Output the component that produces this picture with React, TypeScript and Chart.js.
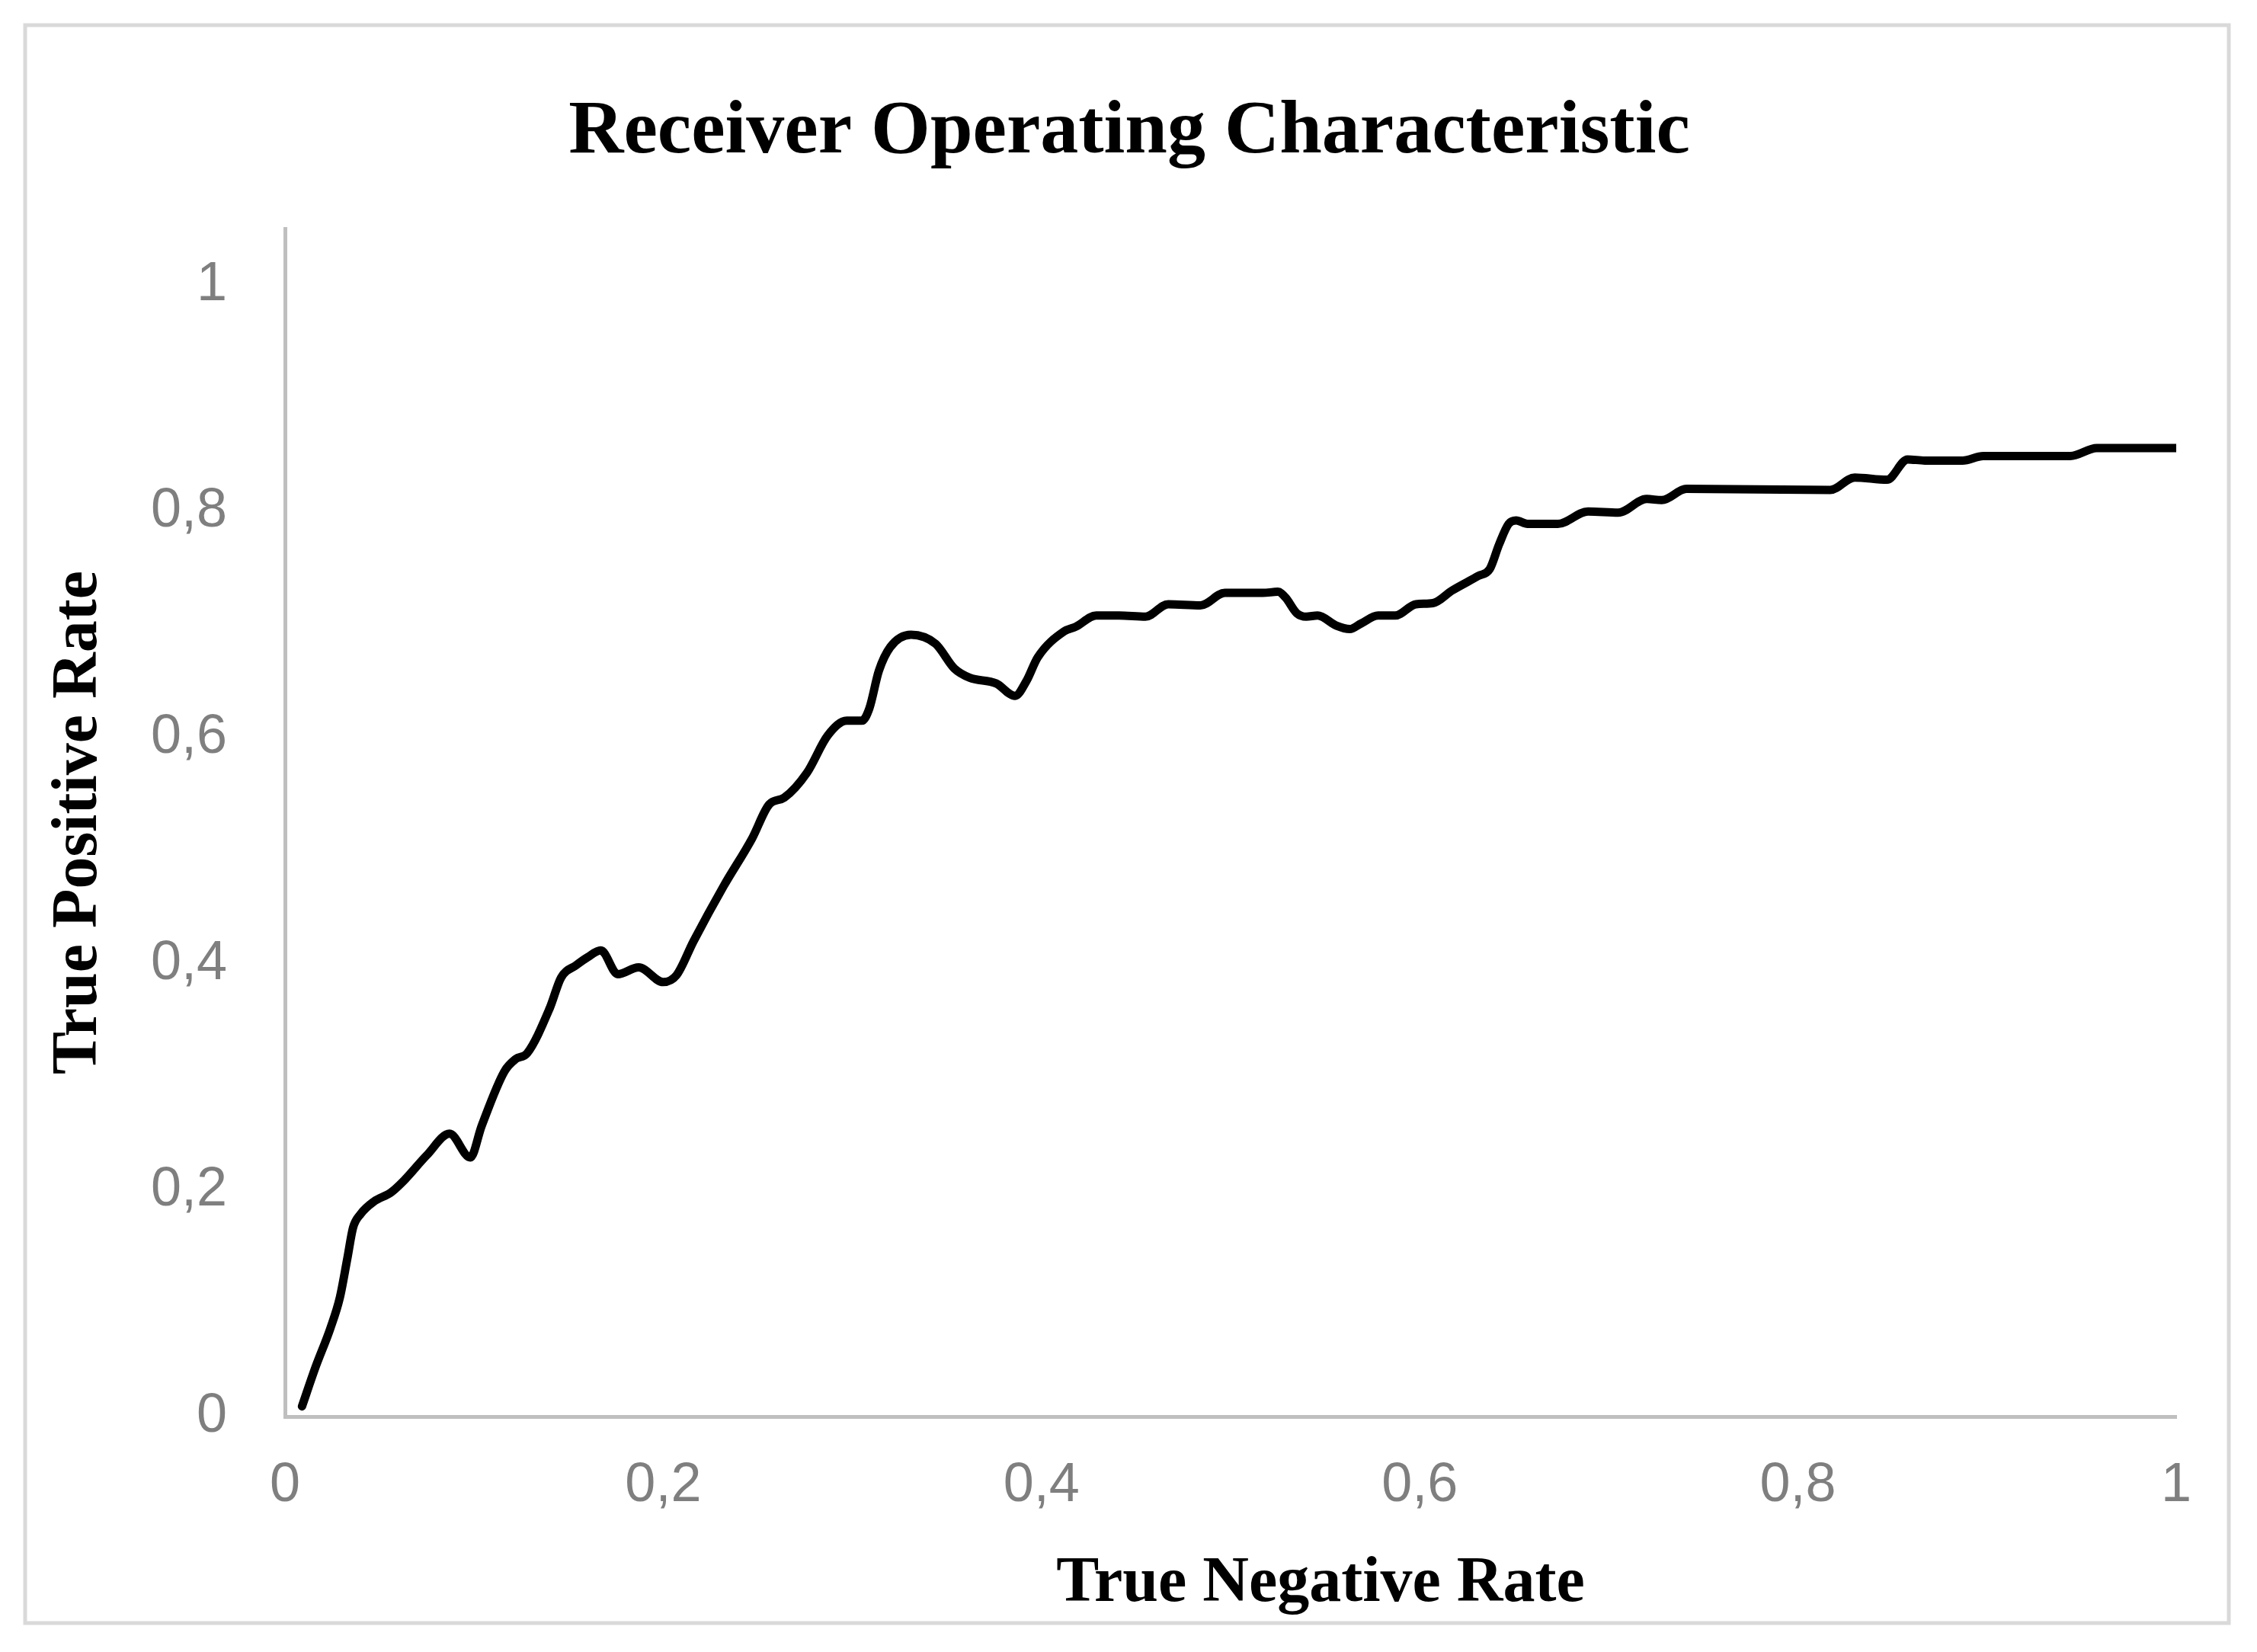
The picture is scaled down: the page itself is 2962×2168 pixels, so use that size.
import React, { useEffect, useRef } from "react";
import { Chart, registerables } from "chart.js";

Chart.register(...registerables);

const chartTitle = "Receiver Operating Characteristic";
const xAxisTitle = "True Negative Rate";
const yAxisTitle = "True Positive Rate";
const tickValues = [0, 0.2, 0.4, 0.6, 0.8, 1];

const tnr = [
  0.009, 0.016, 0.024, 0.029, 0.033, 0.036, 0.04, 0.047, 0.056, 0.062,
  0.075, 0.087, 0.098, 0.104, 0.116, 0.122, 0.128, 0.14, 0.146, 0.154,
  0.16, 0.167, 0.176, 0.187, 0.2, 0.207, 0.216, 0.232, 0.247, 0.256,
  0.264, 0.276, 0.287, 0.297, 0.305, 0.309, 0.314, 0.32, 0.331, 0.344,
  0.354, 0.362, 0.376, 0.386, 0.392, 0.398, 0.412, 0.418, 0.429, 0.441,
  0.455, 0.467, 0.484, 0.497, 0.517, 0.525, 0.529, 0.535, 0.54, 0.546,
  0.556, 0.563, 0.569, 0.578, 0.587, 0.598, 0.607, 0.617, 0.631, 0.637,
  0.642, 0.647, 0.651, 0.657, 0.673, 0.689, 0.705, 0.72, 0.728, 0.741,
  0.817, 0.83, 0.847, 0.858, 0.867, 0.887, 0.898, 0.944, 0.958, 1.0,
];

const tpr = [
  0.009, 0.043, 0.078, 0.105, 0.14, 0.167, 0.179, 0.19, 0.198, 0.207,
  0.231, 0.25, 0.229, 0.257, 0.305, 0.316, 0.321, 0.361, 0.388, 0.399,
  0.406, 0.412, 0.391, 0.397, 0.384, 0.39, 0.42, 0.469, 0.511, 0.541,
  0.547, 0.569, 0.602, 0.615, 0.615, 0.626, 0.659, 0.68, 0.691, 0.683,
  0.661, 0.653, 0.648, 0.637, 0.65, 0.671, 0.694, 0.698, 0.708, 0.708,
  0.707, 0.718, 0.717, 0.728, 0.728, 0.729, 0.724, 0.71, 0.707, 0.708,
  0.699, 0.696, 0.701, 0.708, 0.708, 0.718, 0.719, 0.73, 0.743, 0.749,
  0.771, 0.789, 0.792, 0.789, 0.789, 0.8, 0.799, 0.811, 0.81, 0.82,
  0.819, 0.83, 0.828, 0.846, 0.845, 0.845, 0.849, 0.849, 0.856, 0.856,
];

const W = 2962;
const H = 2168;

const fmt = (v: number) => String(Math.round(v * 10) / 10).replace(".", ",");

const framePlugin = {
  id: "framePlugin",
  beforeDraw(chart: any) {
    const ctx = chart.ctx;
    ctx.save();
    ctx.fillStyle = "#ffffff";
    ctx.fillRect(0, 0, W, H);
    ctx.strokeStyle = "#d9d9d9";
    ctx.lineWidth = 5;
    ctx.strokeRect(33, 33, 2892, 2097);
    ctx.restore();
  },
  afterDraw(chart: any) {
    const ctx = chart.ctx;
    ctx.save();
    ctx.fillStyle = "#000000";
    ctx.textAlign = "center";
    ctx.textBaseline = "alphabetic";
    ctx.font = "bold 100px 'Liberation Serif'";
    ctx.fillText(chartTitle, 1482, 200);
    ctx.textBaseline = "middle";
    ctx.font = "bold 84px 'Liberation Serif'";
    ctx.fillText(xAxisTitle, 1733, 2079);
    ctx.restore();
  },
};

export default function App() {
  const ref = useRef<HTMLCanvasElement | null>(null);

  useEffect(() => {
    if (!ref.current) return;
    const points = tnr.map((x, i) => ({ x, y: tpr[i] }));
    const chart = new Chart(ref.current, {
      type: "line",
      data: {
        datasets: [
          {
            data: points,
            borderColor: "#000000",
            borderWidth: 11,
            pointRadius: 0,
            tension: 0.4,
            cubicInterpolationMode: "monotone",
            borderCapStyle: "round",
            borderJoinStyle: "round",
            fill: false,
          },
        ],
      },
      options: {
        animation: false,
        responsive: false,
        devicePixelRatio: 1,
        layout: { padding: { left: 0, right: 106, top: 300, bottom: 0 } },
        plugins: {
          legend: { display: false },
          tooltip: { enabled: false },
          title: { display: false },
        },
        scales: {
          x: {
            type: "linear",
            min: 0,
            max: 1,
            grid: { display: false },
            border: { display: true, color: "#bfbfbf", width: 5 },
            afterBuildTicks: (scale: any) => {
              scale.ticks = tickValues.map((v) => ({ value: v }));
            },
            afterFit: (scale: any) => {
              scale.height = 309;
            },
            ticks: {
              color: "#7f7f7f",
              font: { family: "'Liberation Sans'", size: 72 },
              padding: 40,
              maxRotation: 0,
              callback: (v: any) => fmt(Number(v)),
            },
            title: { display: false },
          },
          y: {
            type: "linear",
            min: 0,
            max: 1.05,
            grid: { display: false },
            border: { display: true, color: "#bfbfbf", width: 5 },
            afterBuildTicks: (scale: any) => {
              scale.ticks = tickValues.map((v) => ({ value: v }));
            },
            afterFit: (scale: any) => {
              scale.width = 374;
            },
            ticks: {
              color: "#7f7f7f",
              font: { family: "'Liberation Sans'", size: 72 },
              padding: 68,
              callback: (v: any) => fmt(Number(v)),
            },
            title: {
              display: true,
              text: yAxisTitle,
              color: "#000000",
              font: { family: "'Liberation Serif'", weight: "bold", size: 84 },
              padding: { top: 54, bottom: 0 },
            },
          },
        },
      },
      plugins: [framePlugin],
    } as any);
    return () => chart.destroy();
  }, []);

  return (
    <div style={{ position: "fixed", left: 0, top: 0, width: W, height: H, background: "#fff" }}>
      <canvas ref={ref} width={W} height={H} style={{ display: "block", width: W, height: H }} />
    </div>
  );
}
